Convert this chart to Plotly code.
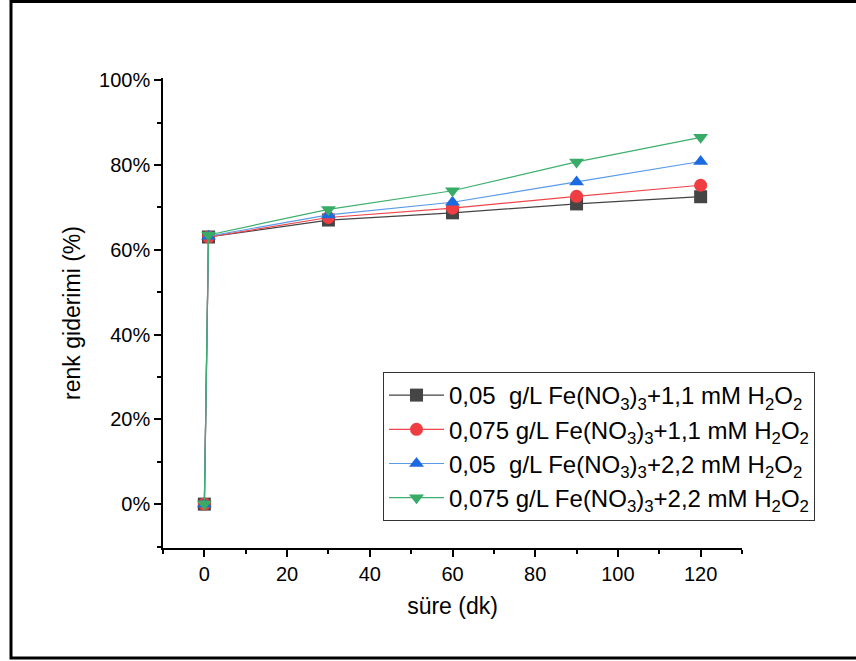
import plotly.graph_objects as go

time_min = [0, 1, 30, 60, 90, 120]
s1_vals = [0.0, 63.0, 67.0, 68.7, 70.8, 72.5]
s2_vals = [0.0, 63.0, 67.6, 69.8, 72.6, 75.2]
s3_vals = [0.0, 63.2, 68.2, 71.2, 76.0, 80.8]
s4_vals = [0.0, 63.5, 69.5, 73.9, 80.7, 86.5]

names = [
    "0,05\u00a0\u00a0g/L Fe(NO<sub>3</sub>)<sub>3</sub>+1,1 mM H<sub>2</sub>O<sub>2</sub>",
    "0,075 g/L Fe(NO<sub>3</sub>)<sub>3</sub>+1,1 mM H<sub>2</sub>O<sub>2</sub>",
    "0,05\u00a0\u00a0g/L Fe(NO<sub>3</sub>)<sub>3</sub>+2,2 mM H<sub>2</sub>O<sub>2</sub>",
    "0,075 g/L Fe(NO<sub>3</sub>)<sub>3</sub>+2,2 mM H<sub>2</sub>O<sub>2</sub>",
]
series = [s1_vals, s2_vals, s3_vals, s4_vals]
line_colors = ["#444444", "#f0464b", "#5a9be8", "#3cb06e"]
marker_colors = ["#454545", "#ef3d42", "#1c6ae0", "#38ab67"]
symbols = ["square", "circle", "triangle-up", "triangle-down"]

fig = go.Figure()
for nm, vals, lc, mc, sym in zip(names, series, line_colors, marker_colors, symbols):
    fig.add_trace(go.Scatter(
        x=time_min, y=vals, name=nm, mode="lines+markers",
        line=dict(color=lc, width=1.2),
        marker=dict(symbol=sym, size=13, color=mc, line=dict(width=0)),
    ))

W, H = 856, 661
L, R, T, B = 163, 114, 78, 113
pw, ph = W - L - R, H - T - B

def px_x(p):
    return (p - L) / pw

def px_y(p):
    return (H - B - p) / ph

fig.add_shape(type="rect", xref="paper", yref="paper",
              x0=px_x(11), x1=px_x(862), y0=px_y(658), y1=px_y(1.5),
              line=dict(color="black", width=3), fillcolor="rgba(0,0,0,0)")

font_family = "Liberation Sans, Arial, sans-serif"
fig.update_layout(
    width=W, height=H,
    margin=dict(l=L, r=R, t=T, b=B),
    paper_bgcolor="white", plot_bgcolor="white",
    font=dict(family=font_family, color="black"),
    showlegend=True,
    legend=dict(
        x=px_x(383), y=px_y(372), xanchor="left", yanchor="top",
        bordercolor="#333333", borderwidth=1, bgcolor="white",
        font=dict(size=24, family=font_family, color="black"),
        itemwidth=55, tracegroupgap=0,
    ),
    xaxis=dict(
        range=[-10, 130], tickmode="array", tickvals=[0, 20, 40, 60, 80, 100, 120],
        showgrid=False, zeroline=False, showline=True, linecolor="black", linewidth=1.5,
        ticks="outside", ticklen=7, tickwidth=1.5, tickcolor="black",
        tickfont=dict(size=20),
        minor=dict(ticks="outside", tickvals=[-10, 10, 30, 50, 70, 90, 110, 130], ticklen=4, tickwidth=1.5, tickcolor="black"),
        title=dict(text="süre (dk)", font=dict(size=23), standoff=14),
    ),
    yaxis=dict(
        range=[-10.35, 100.5], tickmode="array", tickvals=[0, 20, 40, 60, 80, 100],
        ticktext=["0%", "20%", "40%", "60%", "80%", "100%"],
        showgrid=False, zeroline=False, showline=True, linecolor="black", linewidth=1.5,
        ticks="outside", ticklen=7, tickwidth=1.5, tickcolor="black",
        tickfont=dict(size=20),
        minor=dict(ticks="outside", tickvals=[-10, 10, 30, 50, 70, 90], ticklen=4, tickwidth=1.5, tickcolor="black"),
        title=dict(text="renk giderimi (%)", font=dict(size=23), standoff=12),
    ),
)

fig.write_html("out.html", config={"displayModeBar": False},
               post_script="document.body.style.margin='0px';document.body.style.overflow='hidden';")
